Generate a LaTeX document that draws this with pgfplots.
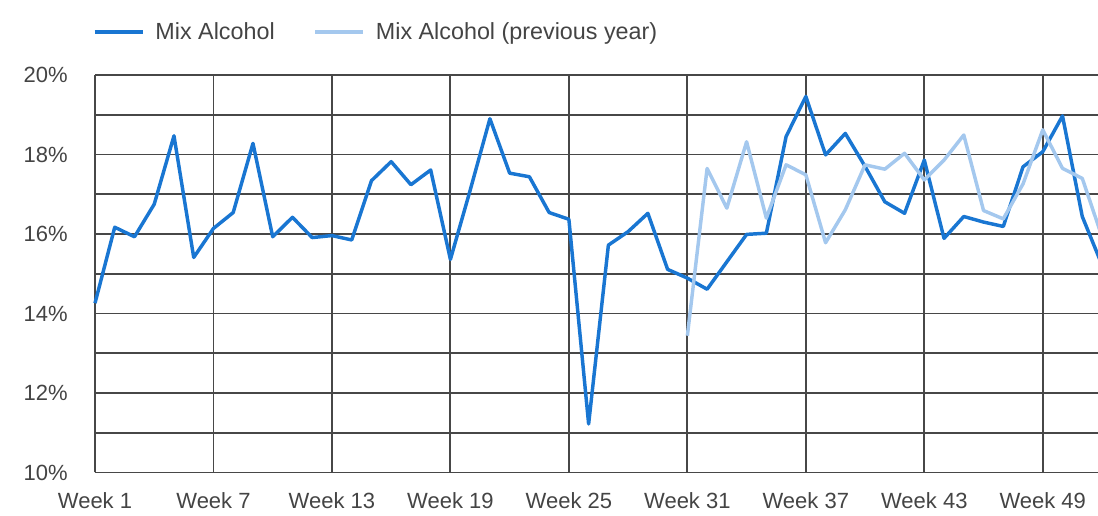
\documentclass[border=0pt]{standalone}
\usepackage{pgfplots}
\pgfplotsset{compat=1.18}
\usepackage{fontspec}
\setmainfont{Liberation Sans}
\definecolor{mainblue}{HTML}{1976D2}
\definecolor{lightblue}{HTML}{A4C8EE}
\definecolor{gridgray}{HTML}{474747}
\definecolor{textgray}{HTML}{444444}
\begin{document}
\begin{tikzpicture}
\path[use as bounding box] (0,0) rectangle (823.5pt,387pt);
\begin{axis}[
  scale only axis,
  width=755.25pt, height=298.125pt,
  at={(71.25pt,32.625pt)}, anchor=south west,
  xmin=1, xmax=52, ymin=10, ymax=20,
  axis x line=bottom, axis y line=left,
  axis line style={gridgray, line width=1.4pt, -},
  xtick={1,7,13,19,25,31,37,43,49},
  xticklabels={Week 1,Week 7,Week 13,Week 19,Week 25,Week 31,Week 37,Week 43,Week 49},
  ytick={10,12,14,16,18,20},
  yticklabels={10\%,12\%,14\%,16\%,18\%,20\%},
  minor ytick={11,13,15,17,19},
  major tick length=0pt, minor tick length=0pt,
  grid=both,
  major grid style={gridgray, line width=1.4pt},
  minor grid style={gridgray, line width=1.4pt},
  tick label style={font=\fontsize{16.5pt}{18pt}\selectfont, text=textgray},
  yticklabel style={anchor=east, inner sep=0pt, xshift=-20.25pt},
  xticklabel style={anchor=north, inner sep=0pt, yshift=-14.6pt},
  clip=false,
  legend columns=-1,
  legend image code/.code={\draw[#1] (0pt,0pt) -- (36pt,0pt);},
  legend style={draw=none, fill=none, inner sep=0pt, outer sep=0pt,
    at={(0,1)}, anchor=west, yshift=32.25pt, xshift=-1.5pt,
    font=\fontsize{17.5pt}{19pt}\selectfont, text=textgray,
    nodes={inner sep=0pt},
    /tikz/every odd column/.append style={column sep=8.25pt},
    /tikz/every even column/.append style={column sep=29pt}},
]
\addplot[mainblue, line width=2.6pt, line join=round, mark=none] coordinates {
(1,14.26) (2,16.17) (3,15.93) (4,16.75) (5,18.47) (6,15.41) (7,16.14) (8,16.54)
(9,18.28) (10,15.93) (11,16.42) (12,15.91) (13,15.96) (14,15.85) (15,17.34) (16,17.82)
(17,17.24) (18,17.61) (19,15.36) (20,17.10) (21,18.90) (22,17.53) (23,17.44) (24,16.54)
(25,16.37) (26,11.22) (27,15.72) (28,16.06) (29,16.52) (30,15.11) (31,14.89) (32,14.61)
(33,15.30) (34,15.99) (35,16.02) (36,18.45) (37,19.46) (38,17.99) (39,18.53) (40,17.70)
(41,16.81) (42,16.52) (43,17.86) (44,15.89) (45,16.44) (46,16.30) (47,16.19) (48,17.69)
(49,18.07) (50,18.97) (51,16.44) (52,15.22)
};
\addlegendentry{Mix Alcohol}
\addplot[lightblue, line width=2.6pt, line join=round, mark=none] coordinates {
(31,13.44) (32,17.65) (33,16.65) (34,18.32) (35,16.40) (36,17.74) (37,17.49) (38,15.78)
(39,16.61) (40,17.74) (41,17.63) (42,18.03) (43,17.36) (44,17.86) (45,18.49) (46,16.59)
(47,16.38) (48,17.26) (49,18.62) (50,17.65) (51,17.40) (52,15.93)
};
\addlegendentry{Mix Alcohol (previous year)}
\end{axis}
\end{tikzpicture}
\end{document}
